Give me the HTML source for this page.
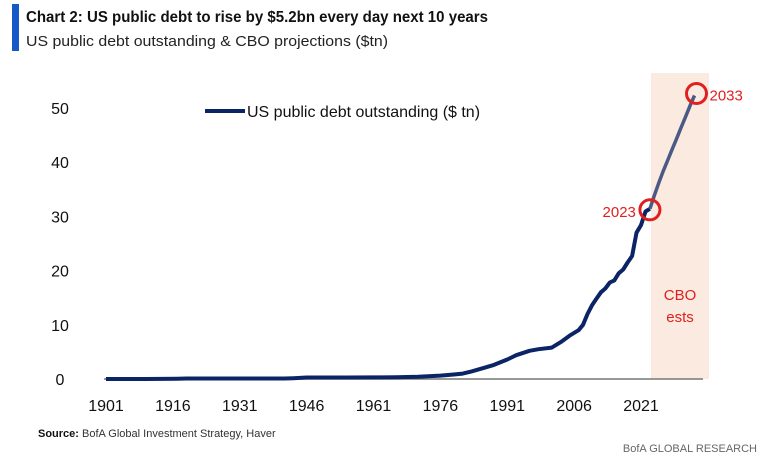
<!DOCTYPE html>
<html><head><meta charset="utf-8"><style>
body{margin:0;background:#fff;width:779px;height:461px;overflow:hidden;font-family:"Liberation Sans",sans-serif;}
svg text{font-family:"Liberation Sans",sans-serif;}
</style></head><body>
<svg width="779" height="461">
<rect x="12" y="4" width="7" height="47" fill="#1558c7"/>
<text x="26" y="22" font-size="16" font-weight="bold" fill="#111" textLength="462" lengthAdjust="spacingAndGlyphs">Chart 2: US public debt to rise by $5.2bn every day next 10 years</text>
<text x="26" y="46" font-size="15" fill="#222" textLength="362" lengthAdjust="spacingAndGlyphs">US public debt outstanding &amp; CBO projections ($tn)</text>
<rect x="651" y="73" width="58" height="306" fill="#fbeae0"/>
<text x="680" y="300" font-size="15" fill="#e02020" text-anchor="middle">CBO</text>
<text x="680" y="322" font-size="15" fill="#e02020" text-anchor="middle">ests</text>
<g id="yticks"></g><g id="xticks"></g>
<line x1="104" y1="379" x2="703" y2="379" stroke="#777" stroke-width="1.5"/>
<path id="hist" fill="none" stroke="#0b2466" stroke-width="4" stroke-linejoin="round"/>
<path id="proj" fill="none" stroke="#4b5a85" stroke-width="3.5"/>
<g id="marks"></g>
<line x1="205" y1="111" x2="245" y2="111" stroke="#0b2466" stroke-width="4"/>
<text x="247" y="117" font-size="16" fill="#111">US public debt outstanding ($ tn)</text>
<text x="38" y="437" font-size="11" font-weight="bold" fill="#111">Source:</text>
<text x="82" y="437" font-size="11" fill="#333">BofA Global Investment Strategy, Haver</text>
<text x="757" y="452" font-size="11" fill="#666" text-anchor="end">BofA GLOBAL RESEARCH</text>
</svg>
<script>
const years=[1901,1910,1917,1919,1930,1935,1941,1943,1946,1955,1961,1966,1971,1976,1979,1981,1983,1986,1988,1991,1993,1996,1998,2001,2003,2005,2007,2008,2009,2010,2011,2012,2013,2014,2015,2016,2017,2018,2019,2020,2021,2022,2023];
const debt=[0.0,0.0,0.05,0.1,0.1,0.1,0.1,0.15,0.27,0.27,0.29,0.32,0.4,0.63,0.83,1.0,1.4,2.1,2.6,3.6,4.4,5.2,5.5,5.8,6.8,8.0,9.0,10.0,12.0,13.6,14.8,16.0,16.7,17.8,18.2,19.5,20.2,21.5,22.7,27.0,28.4,30.9,31.4];
const projYears=[2023,2024,2025,2026,2027,2028,2029,2030,2031,2032,2033];
const projDebt=[31.4,33.9,36.2,38.4,40.4,42.4,44.4,46.4,48.4,50.4,52.3];
const yTicks=[0,10,20,30,40,50];
const xTicks=[1901,1916,1931,1946,1961,1976,1991,2006,2021];
const highlights=[2023,2033];
const X=y=>106+(y-1901)*(535/120);
const Y=v=>379-v*5.42;
const ns="http://www.w3.org/2000/svg";
function mk(t,a,p){const e=document.createElementNS(ns,t);for(const k in a)e.setAttribute(k,a[k]);p.appendChild(e);return e;}
const yt=document.getElementById('yticks');
yTicks.forEach(v=>{const t=mk('text',{x:60,y:Y(v)+6,'font-size':16,fill:'#111','text-anchor':'middle'},yt);t.textContent=v;

});
const xt=document.getElementById('xticks');
xTicks.forEach(v=>{const t=mk('text',{x:X(v),y:411,'font-size':16,fill:'#111','text-anchor':'middle'},xt);t.textContent=v;

});
document.getElementById('hist').setAttribute('d',years.map((y,i)=>(i?'L':'M')+X(y).toFixed(1)+','+Y(debt[i]).toFixed(1)).join(''));
document.getElementById('proj').setAttribute('d',projYears.map((y,i)=>(i?'L':'M')+X(y).toFixed(1)+','+Y(projDebt[i]).toFixed(1)).join(''));
const mg=document.getElementById('marks');
highlights.forEach(h=>{let v=h<=2023?debt[years.indexOf(h)]:projDebt[projYears.indexOf(h)];
const cx=X(h)+(h===2033?2:0),cy=Y(v)+(h===2033?-2:1);
const c=mk('circle',{cx:cx,cy:cy,r:10,fill:'none',stroke:'#e02020','stroke-width':3},mg);


const t=mk('text',h===2033?{x:cx+13,y:cy+7,'font-size':15,fill:'#e02020'}:{x:cx-14,y:cy+7,'font-size':15,fill:'#e02020','text-anchor':'end'},mg);
t.textContent=h;

});
</script>
</body></html>
